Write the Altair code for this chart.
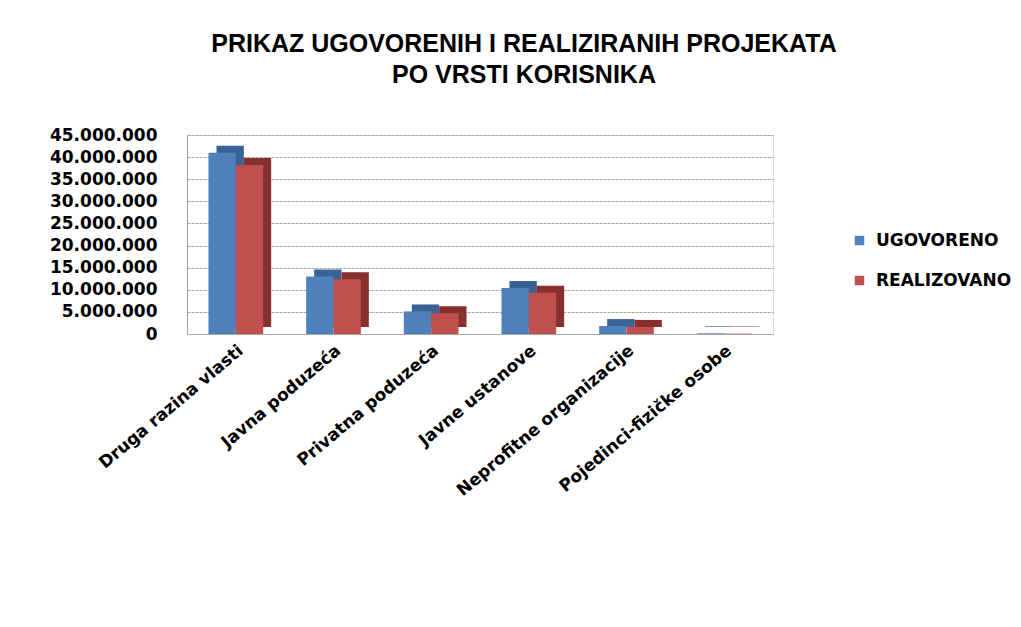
import altair as alt
import pandas as pd

categories = ["Druga razina vlasti", "Javna poduzeća", "Privatna poduzeća",
              "Javne ustanove", "Neprofitne organizacije", "Pojedinci-fizičke osobe"]
series_names = ["UGOVORENO", "REALIZOVANO"]
ugovoreno = [41000000, 13000000, 5100000, 10400000, 1800000, 150000]
realizovano = [38200000, 12400000, 4700000, 9300000, 1600000, 100000]
y_ticks = [0, 5000000, 10000000, 15000000, 20000000, 25000000, 30000000,
           35000000, 40000000, 45000000]

rows = []
for c, u, r in zip(categories, ugovoreno, realizovano):
    rows.append({"kategorija": c, "serija": series_names[0], "vrijednost": u})
    rows.append({"kategorija": c, "serija": series_names[1], "vrijednost": r})
df = pd.DataFrame(rows)

FONT = "DejaVu Sans"
W, H = 586, 199
PAD_IN = 0.44
step = W / len(categories)
bandw = step * (1 - PAD_IN)
DEPTH_X, DEPTH_Y = 8, 7

x_enc = alt.X("kategorija:N", sort=categories,
              scale=alt.Scale(paddingInner=PAD_IN, paddingOuter=PAD_IN / 2),
              axis=alt.Axis(title=None, labelAngle=-40, labelFont=FONT,
                            labelFontSize=17, labelFontWeight="bold",
                            labelColor="#000000", labelPadding=8,
                            ticks=False, domainColor="#a6a6a6",
                            labelLimit=300))
y_enc = alt.Y("vrijednost:Q",
              scale=alt.Scale(domain=[0, 45000000], nice=False),
              axis=alt.Axis(title=None, values=y_ticks,
                            labelExpr="replace(format(datum.value, ',d'), /,/g, '.')",
                            labelFont=FONT, labelFontSize=17,
                            labelFontWeight="bold", labelColor="#000000",
                            labelPadding=30, ticks=False,
                            domainColor="#a6a6a6",
                            gridColor="#a6a6a6", gridDash=[3, 1]))

depth = alt.Chart(df).mark_bar(yOffset=-DEPTH_Y).encode(
    x=x_enc,
    xOffset=alt.XOffset("serija:N", sort=series_names,
                        scale=alt.Scale(range=[DEPTH_X, DEPTH_X + bandw],
                                        paddingInner=0, paddingOuter=0)),
    y=y_enc,
    color=alt.condition(alt.datum.serija == "UGOVORENO",
                        alt.value("#3a6296"), alt.value("#87302e")),
)

front = alt.Chart(df).mark_bar().encode(
    x=x_enc,
    xOffset=alt.XOffset("serija:N", sort=series_names,
                        scale=alt.Scale(range=[0, bandw],
                                        paddingInner=0, paddingOuter=0)),
    y=y_enc,
    color=alt.Color("serija:N", sort=series_names,
                    scale=alt.Scale(domain=series_names,
                                    range=["#4f81bd", "#c0504d"]),
                    legend=alt.Legend(title=None, orient="none",
                                      legendX=664, legendY=97,
                                      symbolType="square", symbolSize=90,
                                      symbolStrokeWidth=0,
                                      labelFont=FONT, labelFontSize=17,
                                      labelFontWeight="bold",
                                      labelColor="#000000",
                                      labelOffset=8, rowPadding=22)),
)

chart = alt.layer(depth, front).resolve_scale(xOffset="independent").properties(
    width=W, height=H,
    title=alt.TitleParams(
        text=["PRIKAZ UGOVORENIH I REALIZIRANIH PROJEKATA", "PO VRSTI KORISNIKA"],
        font="Liberation Sans", fontSize=25,
        fontWeight="bold", color="#000000", anchor="middle",
        lineHeight=31, offset=38, dx=44),
    autosize=alt.AutoSizeParams(type="none"),
    padding={"left": 179, "top": 127, "right": 240, "bottom": 230},
).configure_view(stroke=None).configure(background="#ffffff")

chart.save("out.html", embed_options={"renderer": "svg", "actions": False})
